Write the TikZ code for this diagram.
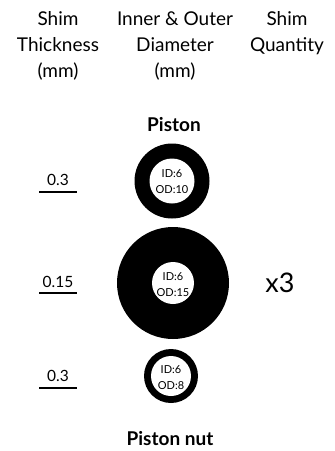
\documentclass[tikz,border=0pt]{standalone}
\usepackage{fontspec}
\setmainfont{Lato}
\begin{document}
\begin{tikzpicture}[x=1pt,y=-1pt,
  hdr/.style={anchor=base,inner sep=0pt,font=\fontsize{19}{23}\selectfont},
  ttl/.style={anchor=base,inner sep=0pt,font=\bfseries\fontsize{19}{22}\selectfont},
  dim/.style={anchor=base,inner sep=0pt,font=\fontsize{11}{13}\selectfont},
  thk/.style={anchor=base,inner sep=0pt,font=\fontsize{15.5}{18}\selectfont},
  qty/.style={anchor=base,inner sep=0pt,font=\fontsize{27}{30}\selectfont},
  ring/.style={fill=black},
  hole/.style={fill=white},
  uline/.style={draw=black,line width=2pt}]
\useasboundingbox (0,0) rectangle (335,451);
% headers
\node[hdr] (h1a) at (58,25) {Shim};
\node[hdr] (h1b) at (58,51) {Thickness};
\node[hdr] (h1c) at (58,77) {(mm)};
\node[hdr] (h2a) at (175,25) {Inner \& Outer};
\node[hdr] (h2b) at (175,51) {Diameter};
\node[hdr] (h2c) at (175,77) {(mm)};
\node[hdr] (h3a) at (287,25) {Shim};
\node[hdr] (h3b) at (287,51) {Quantity};
% titles
\node[ttl] (piston) at (174,131) {Piston};
\node[ttl] (nut) at (170,445) {Piston nut};
% shims
\fill[ring] (172,181) circle (37.5);
\fill[hole] (172,181) circle (22.5);
\fill[ring] (173,283) circle (56);
\fill[hole] (173,283) circle (21);
\fill[ring] (171,376) circle (27);
\fill[hole] (171,376) circle (20);
\node[dim] (d1a) at (172,177.5) {ID:6};
\node[dim] (d1b) at (172,193.5) {OD:10};
\node[dim] (d2a) at (173,280) {ID:6};
\node[dim] (d2b) at (173,296.5) {OD:15};
\node[dim] (d3a) at (171,373) {ID:6};
\node[dim] (d3b) at (171,389) {OD:8};
% thickness
\node[thk] (t1) at (58,185) {0.3};
\node[thk] (t2) at (58,287) {0.15};
\node[thk] (t3) at (58,381) {0.3};
\coordinate (l1a) at (39,192); \coordinate (l1b) at (77,192);
\coordinate (l2a) at (39,293); \coordinate (l2b) at (77,293);
\coordinate (l3a) at (39,388); \coordinate (l3b) at (77,388);
\draw[uline] (l1a) -- (l1b);
\draw[uline] (l2a) -- (l2b);
\draw[uline] (l3a) -- (l3b);
% quantity
\node[qty] (q) at (280,292) {x3};
\end{tikzpicture}
\end{document}
